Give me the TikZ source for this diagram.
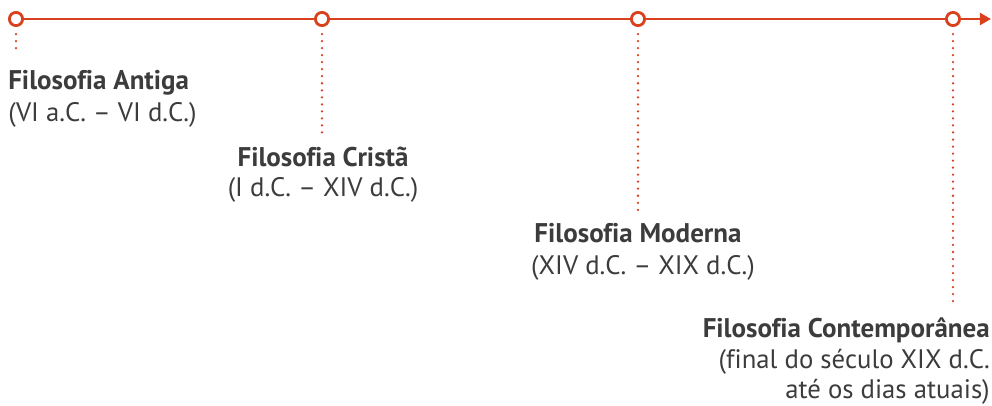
\documentclass[tikz,border=0pt]{standalone}
\usepackage{fontspec}
\setmainfont{PT Sans}[Ligatures=NoCommon]
\usetikzlibrary{arrows.meta, positioning}

\definecolor{linha}{HTML}{D9411E}
\definecolor{texto}{HTML}{3C3C3C}

\begin{document}
\begin{tikzpicture}[
  x=0.025cm, y=-0.025cm, % one unit is one pixel of the reference
  marco/.style={circle, draw=linha, fill=white, line width=2pt, inner sep=0pt, minimum size=0.33cm},
  eixo/.style={draw=linha, line width=2pt, -{Triangle[length=8pt, width=8.5pt]}},
  pontos/.style={draw=linha, line width=1.8pt, line cap=round, dash pattern=on 0pt off 5pt},
  periodo/.style={text=texto, inner sep=0pt, font=\fontsize{19.2}{22}\selectfont\bfseries},
  datas/.style={text=texto, inner sep=0pt, font=\fontsize{19}{22.8}\selectfont},
  ]
  \useasboundingbox (0,0) rectangle (992,406);

  % the marks on the time line
  \foreach \x/\nome in {16/antiga, 322/crista, 638/moderna, 953/contemp}
    \node[marco] (\nome) at (\x,19) {};
  \coordinate (fim) at (991,19);
  \draw[eixo] (antiga) -- (crista) -- (moderna) -- (contemp) -- (fim);

  % periods
  \node[periodo, anchor=base west] (antigaT) at (8,90) {Filosofia Antiga};
  \node[datas, anchor=base west] (antigaD) at (8,122) {(VI a.C. – VI d.C.)};

  \node[periodo, anchor=base] (cristaT) at (323,167) {Filosofia Cristã};
  \node[datas, anchor=base] (cristaD) at (323,197) {(I d.C. – XIV d.C.)};

  \node[periodo, anchor=base] (modernaT) at (638,243) {Filosofia Moderna};
  \node[datas, anchor=base] (modernaD) at (643,275) {(XIV d.C. – XIX d.C.)};

  \node[periodo, anchor=base east] (contempT) at (990,337) {Filosofia Contemporânea};
  \node[datas, anchor=base east] (contempD) at (990,368) {(final do século XIX d.C.};
  \node[datas, anchor=base east] (contempE) at (990,398) {até os dias atuais)};

  % dotted leaders down to the texts
  \draw[pontos] ([yshift=-5pt]antiga.south) -- (antiga |- 0,52);
  \draw[pontos] ([yshift=-5pt]crista.south) -- (crista |- 0,135);
  \draw[pontos] ([yshift=-5pt]moderna.south) -- (moderna |- 0,210);
  \draw[pontos] ([yshift=-5pt]contemp.south) -- (contemp |- 0,305);
\end{tikzpicture}
\end{document}
